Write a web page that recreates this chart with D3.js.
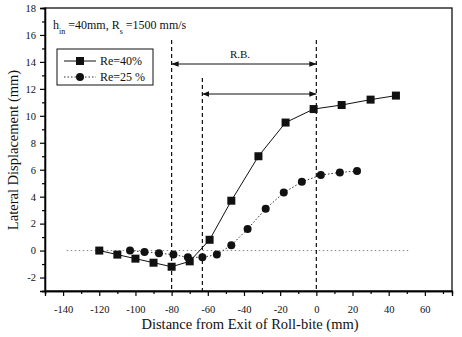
<!DOCTYPE html>
<html>
<head>
<meta charset="utf-8">
<script src="https://cdn.jsdelivr.net/npm/d3@7"></script>
<style>
  body { margin: 0; background: #fff; }
  text { font-family: "Liberation Serif", "DejaVu Serif", serif; fill: #111; }
</style>
</head>
<body>
<svg width="462" height="337"></svg>
<script>
// data
const re40X = [-120, -110, -100, -90, -80, -70, -59, -47, -32, -17, -1.5, 14, 30, 44];
const re40Y = [0, -0.3, -0.6, -0.9, -1.2, -0.8, 0.8, 3.7, 7.0, 9.5, 10.5, 10.8, 11.2, 11.5];
const re25X = [-103, -95, -87, -79, -71, -63, -55, -47, -38, -28, -18, -8, 2.5, 13, 22.5];
const re25Y = [0, -0.1, -0.2, -0.3, -0.5, -0.5, -0.3, 0.4, 1.6, 3.1, 4.3, 5.1, 5.6, 5.8, 5.9];
const xTicks = [-140, -120, -100, -80, -60, -40, -20, 0, 20, 40, 60];
const yTicks = [-2, 0, 2, 4, 6, 8, 10, 12, 14, 16, 18];
const dashX = [-80, -63, 0];

const svg = d3.select('svg');
const W = +svg.attr('width');
const H = +svg.attr('height');

const x = d3.scaleLinear().domain([-150, 75]).range([45, 452]);
const y = d3.scaleLinear().domain([-3, 18]).range([291, 8]);

// frame
svg.append('rect')
    .attr('x', x(-150)).attr('y', y(18))
    .attr('width', x(75) - x(-150)).attr('height', y(-3) - y(18))
    .attr('fill', 'none').attr('stroke', '#111').attr('stroke-width', 1.3);

// axes
svg.append('g').attr('transform', `translate(0,${y(-3)})`)
    .call(d3.axisBottom(x).tickValues(xTicks).tickSize(5).tickPadding(10).tickFormat(d => String(d)));
svg.append('g').attr('transform', `translate(0,${y(-3)})`)
    .call(d3.axisBottom(x).tickValues(d3.range(-150, 80, 10).filter(v => v % 20 !== 0)).tickSize(3).tickFormat(''));
svg.append('g').attr('transform', `translate(${x(-150)},0)`)
    .call(d3.axisLeft(y).tickValues(yTicks).tickSize(5).tickPadding(4).tickFormat(d => String(d)));
svg.append('g').attr('transform', `translate(${x(-150)},0)`)
    .call(d3.axisLeft(y).tickValues(d3.range(-3, 18, 2)).tickSize(3).tickFormat(''));
svg.selectAll('.domain').attr('stroke-width', 1.3);
svg.selectAll('.tick line').attr('stroke-width', 1.2);
svg.selectAll('.tick text').style('font-size', '10.5px').style('font-family', '"Liberation Serif", serif');

// axis titles
svg.append('text')
    .attr('x', 250).attr('y', 329)
    .attr('text-anchor', 'middle').style('font-size', '14.5px')
    .text('Distance from Exit of Roll-bite (mm)');
svg.append('text')
    .attr('transform', `translate(18,${150}) rotate(-90)`)
    .attr('text-anchor', 'middle').style('font-size', '14.5px')
    .text('Lateral Displacement (mm)');

// zero reference line
svg.append('line')
    .attr('x1', x(-138)).attr('x2', x(52))
    .attr('y1', y(0)).attr('y2', y(0))
    .attr('stroke', '#666').attr('stroke-width', 0.8).attr('stroke-dasharray', '1.5,2.5');

// dashed verticals
svg.selectAll('.vdash').data(dashX).enter().append('line')
    .attr('x1', d => x(d)).attr('x2', d => x(d))
    .attr('y1', d => d === -63 ? 78 : 40).attr('y2', y(-3))
    .attr('stroke', '#111').attr('stroke-width', 1.2).attr('stroke-dasharray', '4,3');

// arrows
const defs = svg.append('defs');
defs.append('marker').attr('id', 'ah').attr('viewBox', '0 0 10 10')
    .attr('refX', 10).attr('refY', 5).attr('markerWidth', 7).attr('markerHeight', 7)
    .attr('orient', 'auto-start-reverse')
    .append('path').attr('d', 'M0,1L10,5L0,9z').attr('fill', '#111');
svg.append('line')
    .attr('x1', x(-80)).attr('x2', x(0)).attr('y1', 64).attr('y2', 64)
    .attr('stroke', '#111').attr('stroke-width', 1)
    .attr('marker-start', 'url(#ah)').attr('marker-end', 'url(#ah)');
svg.append('line')
    .attr('x1', x(-63)).attr('x2', x(0)).attr('y1', 94).attr('y2', 94)
    .attr('stroke', '#111').attr('stroke-width', 1)
    .attr('marker-start', 'url(#ah)').attr('marker-end', 'url(#ah)');
svg.append('text')
    .attr('x', 240).attr('y', 58).attr('text-anchor', 'middle')
    .style('font-size', '11px').text('R.B.');

// series
const re40 = re40X.map((d, i) => [d, re40Y[i]]);
const re25 = re25X.map((d, i) => [d, re25Y[i]]);
const line = d3.line().x(d => x(d[0])).y(d => y(d[1]));

svg.append('path').attr('d', line(re25))
    .attr('fill', 'none').attr('stroke', '#333').attr('stroke-width', 1)
    .attr('stroke-dasharray', '1.5,2');
svg.append('path').attr('d', line(re40))
    .attr('fill', 'none').attr('stroke', '#111').attr('stroke-width', 1);

svg.selectAll('.sq').data(re40).enter().append('rect')
    .attr('x', d => x(d[0]) - 4).attr('y', d => y(d[1]) - 4)
    .attr('width', 8).attr('height', 8).attr('fill', '#111');
svg.selectAll('.ci').data(re25).enter().append('circle')
    .attr('cx', d => x(d[0])).attr('cy', d => y(d[1])).attr('r', 4)
    .attr('fill', '#111');

// header text
const hdr = svg.append('text').attr('x', 53).attr('y', 29).style('font-size', '12px');
hdr.append('tspan').text('h');
hdr.append('tspan').attr('dy', 5).style('font-size', '8px').text('in');
hdr.append('tspan').attr('dy', -5).text(' =40mm, R');
hdr.append('tspan').attr('dy', 5).style('font-size', '8px').text('s');
hdr.append('tspan').attr('dy', -5).text(' =1500 mm/s');

// legend
svg.append('rect').attr('x', 57).attr('y', 49).attr('width', 96).attr('height', 36)
    .attr('fill', 'none').attr('stroke', '#111').attr('stroke-width', 1);
svg.append('line').attr('x1', 64).attr('x2', 96).attr('y1', 61).attr('y2', 61)
    .attr('stroke', '#111').attr('stroke-width', 1);
svg.append('rect').attr('x', 76).attr('y', 57).attr('width', 8).attr('height', 8).attr('fill', '#111');
svg.append('text').attr('x', 100).attr('y', 65).style('font-size', '12px').text('Re=40%');
svg.append('line').attr('x1', 64).attr('x2', 96).attr('y1', 77).attr('y2', 77)
    .attr('stroke', '#333').attr('stroke-width', 1).attr('stroke-dasharray', '1.5,2');
svg.append('circle').attr('cx', 80).attr('cy', 77).attr('r', 4).attr('fill', '#111');
svg.append('text').attr('x', 100).attr('y', 81).style('font-size', '12px').text('Re=25 %');
</script>
</body>
</html>
